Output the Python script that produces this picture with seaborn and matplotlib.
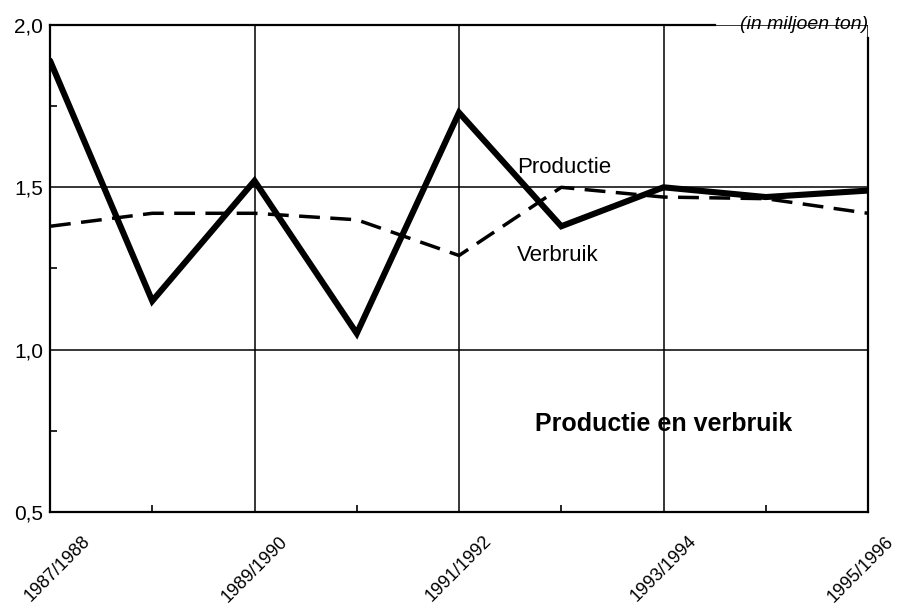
import matplotlib
matplotlib.use('Agg')
import matplotlib.pyplot as plt
import matplotlib.transforms as mtransforms
import seaborn as sns
import pandas as pd

seasons = ['1987/1988', '1988/1989', '1989/1990', '1990/1991', '1991/1992',
           '1992/1993', '1993/1994', '1994/1995', '1995/1996']
productie = [1.89, 1.15, 1.52, 1.05, 1.73, 1.38, 1.50, 1.47, 1.49]
verbruik = [1.38, 1.42, 1.42, 1.40, 1.29, 1.50, 1.47, 1.465, 1.42]
yticks = [0.5, 1.0, 1.5, 2.0]
ytick_labels = ['0,5', '1,0', '1,5', '2,0']

sns.set_style('white')
plt.rcParams['font.family'] = ['Liberation Sans', 'DejaVu Sans']
plt.rcParams['text.color'] = 'black'
plt.rcParams['xtick.color'] = 'black'
plt.rcParams['ytick.color'] = 'black'

df = pd.DataFrame({'pos': range(len(seasons)), 'season': seasons,
                   'Productie': productie, 'Verbruik': verbruik})

fig = plt.figure(figsize=(8.98, 6.12), dpi=100)
ax = fig.add_axes([0.0557, 0.1634, 0.9109, 0.7958])

sns.lineplot(data=df, x='pos', y='Verbruik', ax=ax, color='black',
             linewidth=2.5, linestyle=(0, (6, 3)))
sns.lineplot(data=df, x='pos', y='Productie', ax=ax, color='black',
             linewidth=4.4, solid_joinstyle='miter')

ax.set_xlim(0, 8)
ax.set_ylim(0.5, 2.0)
ax.set_xlabel('')
ax.set_ylabel('')

major_x = list(range(0, len(seasons), 2))
ax.set_xticks(major_x)
ax.set_xticklabels([seasons[i] for i in major_x], rotation=45, ha='center',
                   fontsize=13, fontweight='medium')
ax.set_xticks(list(range(1, len(seasons), 2)), minor=True)
ax.set_yticks(yticks)
ax.set_yticklabels(ytick_labels, fontsize=15, fontweight='medium')
ax.set_yticks([0.75, 1.25, 1.75], minor=True)
ax.tick_params(which='major', length=0)
ax.tick_params(axis='y', which='major', pad=5)
ax.tick_params(axis='x', which='major', pad=15)
ax.tick_params(which='minor', direction='in', length=5, width=1.2)
ax.tick_params(which='minor', bottom=True, left=True)

# nudge the first label right and the last one left, as in the print
xlabels = ax.get_xticklabels()
xlabels[0].set_transform(xlabels[0].get_transform() +
                         mtransforms.ScaledTranslation(0.08, 0, fig.dpi_scale_trans))
xlabels[-1].set_transform(xlabels[-1].get_transform() +
                          mtransforms.ScaledTranslation(-0.07, 0, fig.dpi_scale_trans))

ax.grid(True, which='major', color='black', linewidth=1.1)

for s in ax.spines.values():
    s.set_color('black')
    s.set_linewidth(1.6)
ax.spines['top'].set_bounds(0, 6.5)
ax.spines['right'].set_bounds(0.5, 1.96)

ax.text(8, 2.0, '(in miljoen ton)', ha='right', va='center', style='italic',
        fontsize=14, fontweight='medium')
ax.text(4.57, 1.56, 'Productie', ha='left', va='center', fontsize=16)
ax.text(4.57, 1.29, 'Verbruik', ha='left', va='center', fontsize=16)
ax.text(6.0, 0.77, 'Productie en verbruik', ha='center', va='center',
        fontsize=18, fontweight='bold')

fig.savefig('out.png', dpi=100)
